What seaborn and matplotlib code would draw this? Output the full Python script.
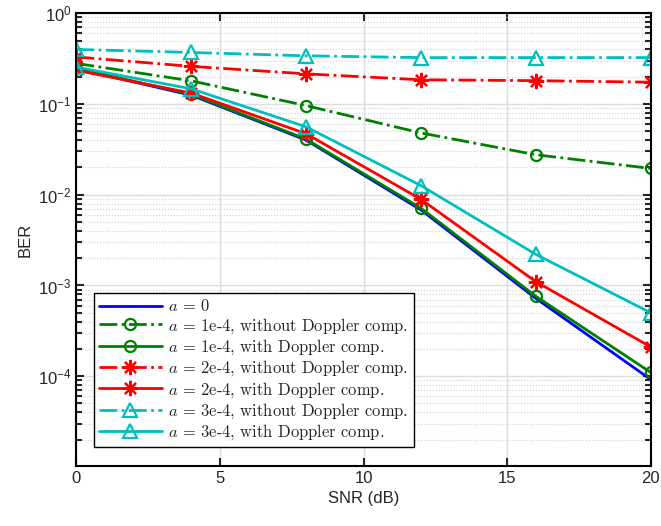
import numpy as np
import pandas as pd
import matplotlib
matplotlib.use("Agg")
import matplotlib.pyplot as plt
import seaborn as sns
from matplotlib.ticker import LogLocator, NullFormatter

snr = [0, 4, 8, 12, 16, 20]

ber_a0 = [0.245, 0.125, 0.040, 0.0068, 0.00072, 0.000092]
ber_a1_wo = [0.28, 0.18, 0.096, 0.048, 0.0276, 0.0195]
ber_a1_w = [0.248, 0.128, 0.041, 0.0071, 0.00076, 0.00011]
ber_a2_wo = [0.33, 0.26, 0.215, 0.185, 0.181, 0.174]
ber_a2_w = [0.235, 0.132, 0.047, 0.0089, 0.0011, 0.00021]
ber_a3_wo = [0.40, 0.37, 0.34, 0.325, 0.325, 0.325]
ber_a3_w = [0.255, 0.147, 0.056, 0.0126, 0.0022, 0.0005]

labels = [r"$a$ = 0",
          r"$a$ = 1e-4, without Doppler comp.",
          r"$a$ = 1e-4, with Doppler comp.",
          r"$a$ = 2e-4, without Doppler comp.",
          r"$a$ = 2e-4, with Doppler comp.",
          r"$a$ = 3e-4, without Doppler comp.",
          r"$a$ = 3e-4, with Doppler comp."]
series = [ber_a0, ber_a1_wo, ber_a1_w, ber_a2_wo, ber_a2_w, ber_a3_wo, ber_a3_w]

blue = (0, 0, 1)
green = (0, 0.5, 0)
red = (1, 0, 0)
cyan = (0, 0.75, 0.75)
colors = [blue, green, green, red, red, cyan, cyan]
styles = ["-", "-.", "-", "-.", "-", "-.", "-"]
markers = [None, "o", "o", (8, 2, 0), (8, 2, 0), "^", "^"]
msizes = [0, 8, 8, 11, 11, 10, 10]

sns.set_style("ticks")
plt.rcParams["font.family"] = ["Liberation Sans", "DejaVu Sans"]
plt.rcParams["mathtext.fontset"] = "cm"

fig = plt.figure(figsize=(6.61, 5.26), dpi=100)
ax = fig.add_axes([0.1157, 0.1146, 0.8687, 0.8601])

for i in range(len(series)):
    df = pd.DataFrame({"SNR": snr, "BER": series[i]})
    kw = {}
    if markers[i] is not None:
        kw = dict(marker=markers[i], markersize=msizes[i], markerfacecolor="none",
                  markeredgecolor=colors[i], markeredgewidth=1.6)
    sns.lineplot(data=df, x="SNR", y="BER", ax=ax, color=colors[i],
                 linestyle=styles[i], linewidth=2, label=labels[i], **kw)

ax.set_yscale("log")
ax.set_xlim(0, 20)
ax.set_ylim(1.03e-5, 1)
ax.set_xticks([0, 5, 10, 15, 20])
ax.yaxis.set_major_locator(LogLocator(base=10, numticks=10))
ax.yaxis.set_minor_locator(LogLocator(base=10, subs=np.arange(2, 10), numticks=20))
ax.yaxis.set_minor_formatter(NullFormatter())

ax.grid(True, which="major", color="#dddddd", linestyle="-", linewidth=1)
ax.grid(True, which="minor", axis="y", color="#d0d0d0", linestyle=":", linewidth=0.8)
ax.set_axisbelow(True)

for s in ax.spines.values():
    s.set_linewidth(1.5)
    s.set_color("black")
ax.tick_params(which="both", direction="in", top=True, right=True, width=1.5, labelsize=12)
ax.tick_params(which="major", length=6)
ax.tick_params(which="minor", length=4)

ax.set_xlabel("SNR (dB)", fontsize=12)
ax.set_ylabel("BER", fontsize=12)

leg = ax.legend(loc="lower left", bbox_to_anchor=(0.0305, 0.041), borderaxespad=0,
                frameon=True, fancybox=False,
                edgecolor="black", framealpha=1, borderpad=0.3, labelspacing=0.085,
                handlelength=3.8, handletextpad=0.4,
                prop={"family": "cmr10", "size": 11.9})
leg.get_frame().set_linewidth(1)

fig.savefig("out.png", dpi=100)
